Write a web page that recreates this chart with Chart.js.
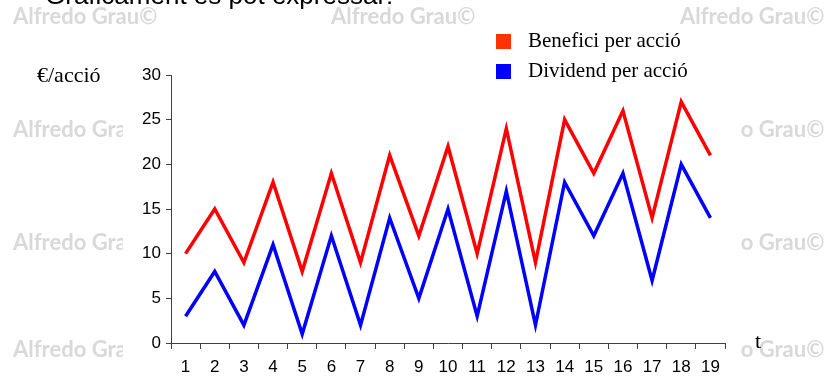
<!DOCTYPE html>
<html>
<head>
<meta charset="utf-8">
<title>Benefici i dividend per acció</title>
<style>
  html, body { margin: 0; padding: 0; background: #ffffff; }
  #wrap { position: relative; width: 825px; height: 379px; }
</style>
<script src="https://cdn.jsdelivr.net/npm/chart.js@4/dist/chart.umd.min.js"></script>
</head>
<body>
<div id="wrap"><canvas id="chart" width="825" height="379"></canvas></div>
<script>
// Periods on the horizontal axis
const periods = ['1','2','3','4','5','6','7','8','9','10','11','12','13','14','15','16','17','18','19'];

// Earnings per share and dividend per share, in €
const beneficiPerAccio = [10, 15, 9, 18, 8, 19, 9, 21, 12, 22, 10, 24, 9, 25, 19, 26, 14, 27, 21];
const dividendPerAccio = [3, 8, 2, 11, 1, 12, 2, 14, 5, 15, 3, 17, 2, 18, 12, 19, 7, 20, 14];

// Vertical axis range
const yMin = 0;
const yMax = 30;
const yStep = 5;

const seriesNames = ['Benefici per acció', 'Dividend per acció'];
const lineColors = ['#ff0000', '#0000ff'];
const legendColors = ['#ff3300', '#0000ff'];

const titleText = 'Gràficament es pot expressar:';
const yUnitText = '€/acció';
const xUnitText = 't';
const watermarkText = 'Alfredo Grau©';

const AXIS_COLOR = '#404040';
const SANS = '"Liberation Sans", Arial, sans-serif';
const SERIF = '"Liberation Serif", "Times New Roman", serif';

// Page background: watermark grid, the white panel of the chart, and the cut-off heading
const backdrop = {
  id: 'backdrop',
  beforeDraw(chart) {
    const ctx = chart.ctx;
    const w = chart.width, h = chart.height;
    ctx.save();
    ctx.fillStyle = '#ffffff';
    ctx.fillRect(0, 0, w, h);

    ctx.font = 'bold 22px Lato, "Liberation Sans", sans-serif';
    ctx.fillStyle = '#d9d9d9';
    ctx.textBaseline = 'middle';
    ctx.textAlign = 'left';
    const cols = [13, 331, 680];
    const rows = [17, 130, 243, 350];
    rows.forEach(y => cols.forEach(x => ctx.fillText(watermarkText, x, y)));

    // white panel behind the chart
    ctx.fillStyle = '#ffffff';
    ctx.fillRect(123, 29, 618, h - 29);

    // heading above, mostly outside the view
    ctx.font = '26px ' + SANS;
    ctx.fillStyle = '#000000';
    ctx.textBaseline = 'alphabetic';
    ctx.fillText(titleText, 45, 4);
    ctx.restore();
  }
};

// Legend with square swatches, the unit label of the y axis and the "t" of the x axis
const annotations = {
  id: 'annotations',
  afterDraw(chart) {
    const ctx = chart.ctx;
    ctx.save();
    ctx.font = '21px ' + SERIF;
    ctx.textBaseline = 'middle';
    ctx.textAlign = 'left';
    chart.data.datasets.forEach((ds, i) => {
      const cy = 41 + i * 30;
      ctx.fillStyle = legendColors[i];
      ctx.fillRect(496, cy - 7, 15, 15);
      ctx.fillStyle = '#000000';
      ctx.fillText(ds.label, 528, cy);
    });

    ctx.font = '22px ' + SERIF;
    ctx.textBaseline = 'alphabetic';
    ctx.fillText(yUnitText, 37, 82);
    ctx.fillText(xUnitText, 755, 348);
    ctx.restore();
  }
};

new Chart(document.getElementById('chart'), {
  type: 'line',
  data: {
    labels: periods,
    datasets: [
      {
        label: seriesNames[0],
        data: beneficiPerAccio,
        borderColor: lineColors[0],
        backgroundColor: lineColors[0],
        borderWidth: 3.5,
        pointRadius: 0,
        pointHoverRadius: 0,
        tension: 0,
        fill: false
      },
      {
        label: seriesNames[1],
        data: dividendPerAccio,
        borderColor: lineColors[1],
        backgroundColor: lineColors[1],
        borderWidth: 3.5,
        pointRadius: 0,
        pointHoverRadius: 0,
        tension: 0,
        fill: false
      }
    ]
  },
  options: {
    responsive: false,
    animation: false,
    devicePixelRatio: 1,
    events: [],
    layout: { padding: { top: 75, right: 100, bottom: 0, left: 0 } },
    plugins: {
      legend: { display: false },
      tooltip: { enabled: false },
      title: { display: false }
    },
    scales: {
      x: {
        type: 'category',
        offset: true,
        grid: {
          offset: true,
          drawOnChartArea: false,
          drawTicks: true,
          tickLength: 6,
          color: AXIS_COLOR
        },
        border: { display: true, color: AXIS_COLOR, width: 1 },
        ticks: {
          color: '#000000',
          font: { family: SANS, size: 17 },
          padding: 8,
          maxRotation: 0,
          autoSkip: false
        },
        afterFit(scale) { scale.height = 36; }
      },
      y: {
        min: yMin,
        max: yMax,
        grid: {
          drawOnChartArea: false,
          drawTicks: true,
          tickLength: 5,
          color: AXIS_COLOR
        },
        border: { display: true, color: AXIS_COLOR, width: 1 },
        ticks: {
          stepSize: yStep,
          color: '#000000',
          font: { family: SANS, size: 17 },
          padding: 5
        },
        afterFit(scale) { scale.width = 171; }
      }
    }
  },
  plugins: [backdrop, annotations]
});
</script>
</body>
</html>
